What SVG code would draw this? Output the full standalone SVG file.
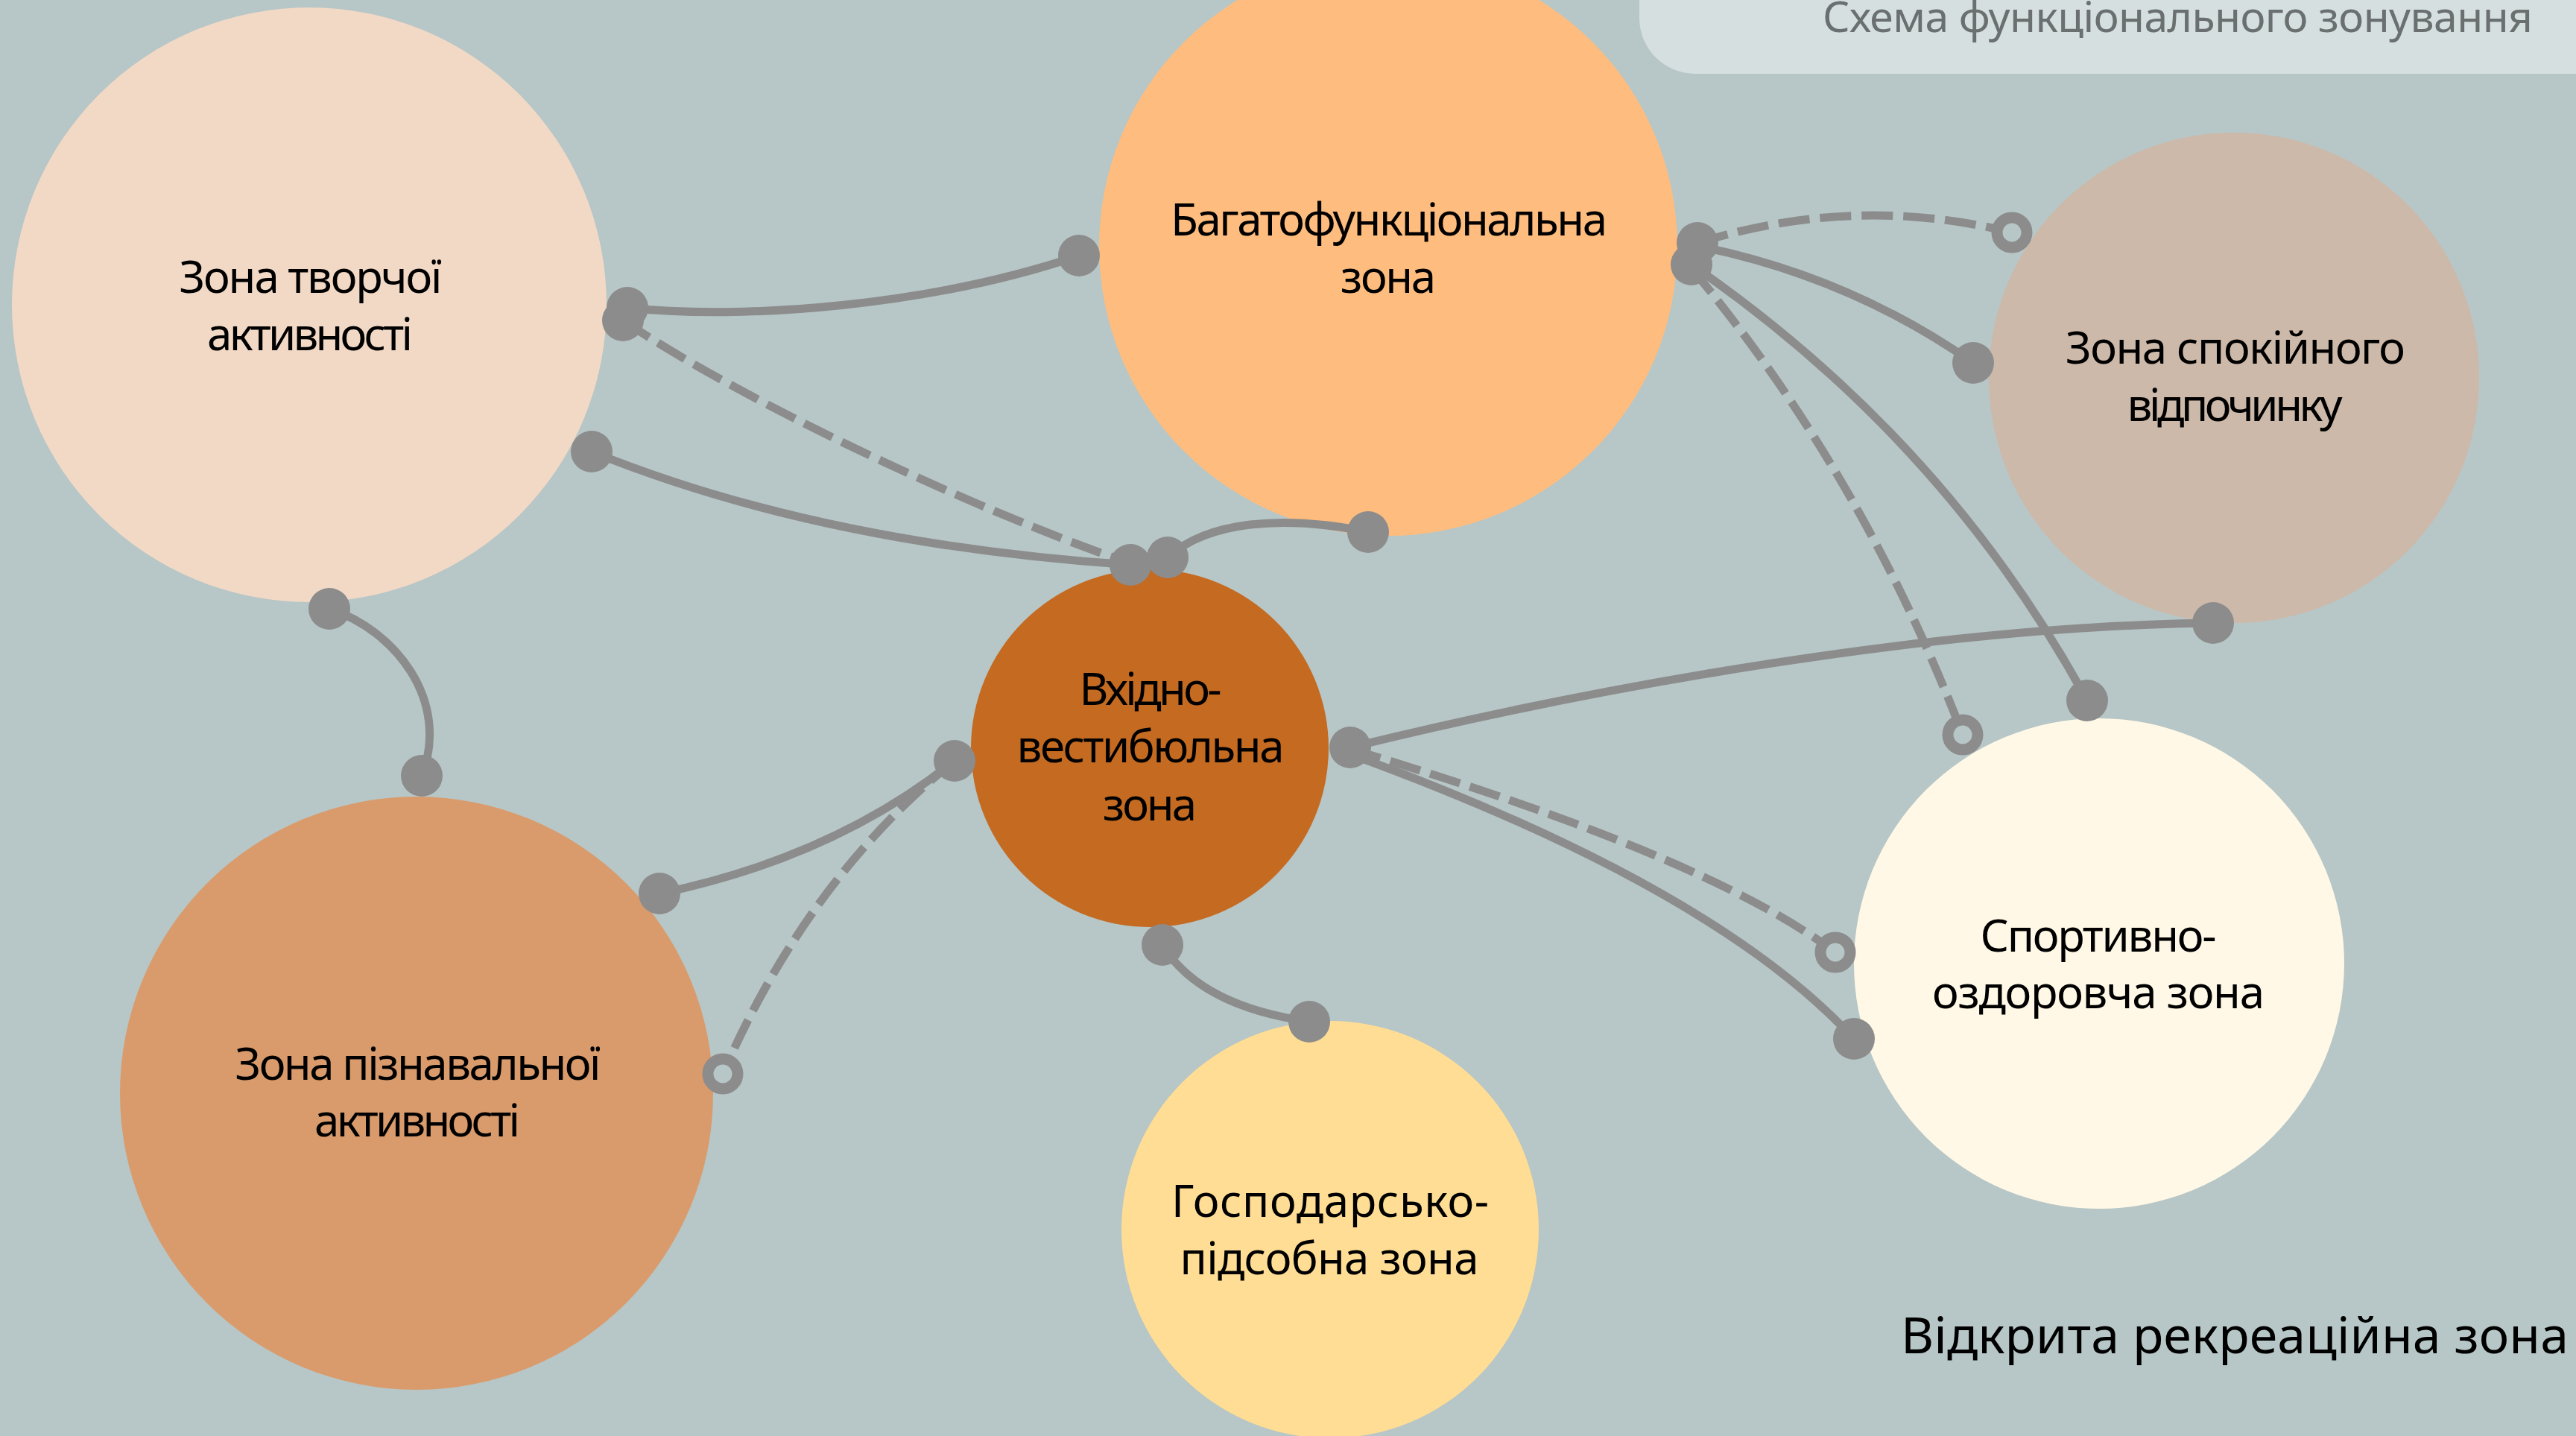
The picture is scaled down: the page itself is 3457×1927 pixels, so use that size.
<svg xmlns="http://www.w3.org/2000/svg" width="3457" height="1927" viewBox="0 0 3457 1927">
<style>
.bg{fill:#b7c6c6}
.lbl{font-family:"Noto Sans","DejaVu Sans",sans-serif;font-size:60px;fill:#000;text-anchor:middle}
.ln{fill:none;stroke:#8c8c8c;stroke-width:11}
.dash{stroke-dasharray:42 14}
.dot{fill:#8c8c8c}
.ring{fill:#b7c6c6;stroke:#8c8c8c;stroke-width:15}
</style>
<rect class="bg" x="0" y="0" width="3457" height="1927"/>
<g id="header">
<rect x="2200" y="-100" width="1350" height="199" rx="75" ry="75" fill="#d5dfe0"/>
<text x="2446" y="43" font-family="Noto Sans, DejaVu Sans, sans-serif" font-size="57" fill="#6a6f6f" textLength="953">Схема функціонального зонування</text>
</g>
<g id="node-creative">
<circle cx="415" cy="409" r="399" fill="#f2d9c6"/>
<text class="lbl" x="417" y="393" textLength="353">Зона творчої</text>
<text class="lbl" x="416" y="470" textLength="276">активності</text>
</g>
<g id="node-multi">
<circle cx="1863" cy="331" r="388" fill="#febd7e"/>
<text class="lbl" x="1864" y="316" textLength="586">Багатофункціональна</text>
<text class="lbl" x="1863" y="393" textLength="128">зона</text>
</g>
<g id="node-calm">
<circle cx="2998" cy="507" r="329" fill="#cdb9a9"/>
<text class="lbl" x="3000" y="488" textLength="456">Зона спокійного</text>
<text class="lbl" x="2999" y="565" textLength="289">відпочинку</text>
</g>
<g id="node-entrance">
<circle cx="1543" cy="1004" r="240" fill="#c46a21"/>
<text class="lbl" x="1544" y="946" textLength="191">Вхідно-</text>
<text class="lbl" x="1544" y="1023" textLength="359">вестибюльна</text>
<text class="lbl" x="1543" y="1101" textLength="126">зона</text>
</g>
<g id="node-sport">
<circle cx="2817" cy="1293" r="329" fill="#fff8e6"/>
<text class="lbl" x="2816" y="1277" textLength="317">Спортивно-</text>
<text class="lbl" x="2816" y="1353" textLength="446">оздоровча зона</text>
</g>
<g id="node-cognitive">
<circle cx="559" cy="1467" r="398" fill="#d99b6b"/>
<text class="lbl" x="561" y="1449" textLength="491">Зона пізнавальної</text>
<text class="lbl" x="560" y="1525" textLength="276">активності</text>
</g>
<g id="node-household">
<circle cx="1785" cy="1650" r="280" fill="#ffdd94"/>
<text class="lbl" x="1785" y="1633" textLength="426">Господарсько-</text>
<text class="lbl" x="1784" y="1710" textLength="401">підсобна зона</text>
</g>
<g id="connectors">
<path class="ln" d="M842,413 C1000,430 1250,410 1448,343"/>
<path class="ln dash" d="M836,430 C1000,540 1300,680 1505,752"/>
<path class="ln" d="M794,606 Q1100,730 1517,758"/>
<path class="ln" d="M1567,748 C1620,700 1720,690 1836,714"/>
<path class="ln dash" d="M2278,326 Q2490,260 2700,312"/>
<path class="ln" d="M2278,330 Q2482,371 2648,487"/>
<path class="ln" d="M2270,355 Q2610,590 2801,940"/>
<path class="ln dash" d="M2270,360 Q2499,635 2634,986"/>
<path class="ln" d="M1812,1003 C2150,920 2600,840 2970,836"/>
<path class="ln dash" d="M1812,1005 Q2290,1148 2463,1278"/>
<path class="ln" d="M1812,1012 Q2300,1190 2488,1394"/>
<path class="ln" d="M1560,1268 Q1610,1350 1757,1371"/>
<path class="ln" d="M1281,1021 Q1120,1150 886,1199"/>
<path class="ln dash" d="M1281,1021 Q1084,1179 970,1441"/>
<path class="ln" d="M442,817 C530,845 605,940 566,1041"/>
<g id="ends">
<circle class="dot" cx="842" cy="413" r="28"/>
<circle class="dot" cx="836" cy="430" r="28"/>
<circle class="dot" cx="794" cy="606" r="28"/>
<circle class="dot" cx="442" cy="817" r="28"/>
<circle class="dot" cx="1448" cy="343" r="28"/>
<circle class="dot" cx="1836" cy="714" r="28"/>
<circle class="dot" cx="2278" cy="326" r="28"/>
<circle class="dot" cx="2270" cy="355" r="28"/>
<circle class="dot" cx="2648" cy="487" r="28"/>
<circle class="dot" cx="2970" cy="836" r="28"/>
<circle class="dot" cx="1517" cy="758" r="28"/>
<circle class="dot" cx="1567" cy="748" r="28"/>
<circle class="dot" cx="1812" cy="1003" r="28"/>
<circle class="dot" cx="1281" cy="1021" r="28"/>
<circle class="dot" cx="1560" cy="1268" r="28"/>
<circle class="dot" cx="2801" cy="940" r="28"/>
<circle class="dot" cx="2488" cy="1394" r="28"/>
<circle class="dot" cx="566" cy="1041" r="28"/>
<circle class="dot" cx="885" cy="1199" r="28"/>
<circle class="dot" cx="1757" cy="1371" r="28"/>
<circle class="ring" cx="2700" cy="312" r="20"/>
<circle class="ring" cx="2634" cy="986" r="20"/>
<circle class="ring" cx="2463" cy="1278" r="20"/>
<circle class="ring" cx="970" cy="1441" r="20"/>
</g>
</g>
<text x="2551" y="1816" font-family="Noto Sans, DejaVu Sans, sans-serif" font-size="68" fill="#000" textLength="896">Відкрита рекреаційна зона</text>
</svg>
